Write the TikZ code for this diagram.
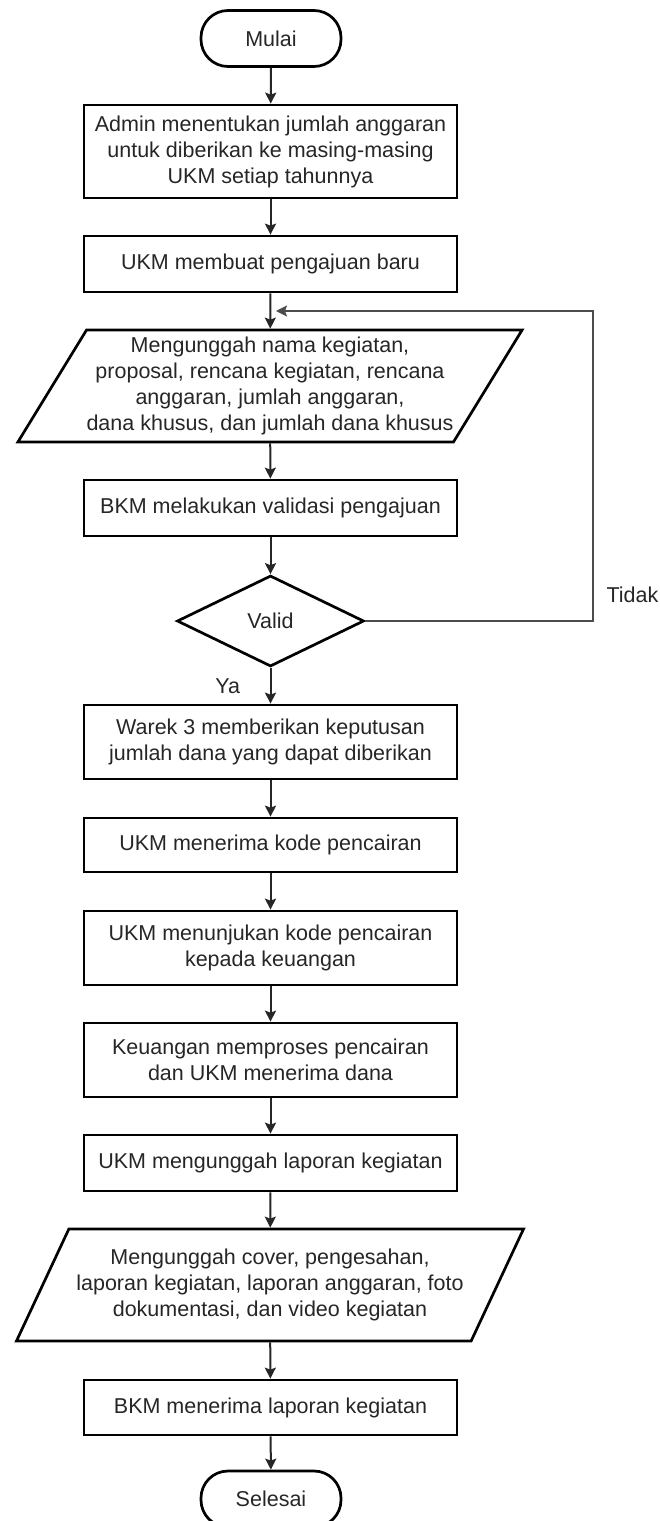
\documentclass[tikz,border=0pt]{standalone}
\usepackage{fontspec}
\setmainfont{Liberation Sans}
\usetikzlibrary{arrows.meta,shapes.geometric}

\begin{document}
\begin{tikzpicture}[x=1pt, y=1pt, every node/.style={font=\fontsize{21.5}{26}\selectfont, align=center, text=black!85},
	>={Stealth[length=11pt, width=11pt, inset=2pt]},
	terminal/.style={draw, line width=2.7pt, rounded corners=27pt, minimum width=140pt, minimum height=56pt, inner sep=0pt},
	proses/.style={draw, line width=2.7pt, rectangle, minimum width=373pt, inner sep=0pt},
	io/.style={draw, line width=2.7pt, trapezium, trapezium left angle=55, trapezium right angle=125, trapezium stretches=true, minimum width=508pt, minimum height=112pt, inner sep=0pt},
	cek/.style={draw, line width=2.7pt, diamond, minimum width=187pt, minimum height=91pt, inner sep=0pt},
	alur/.style={->, line width=2pt, black!85}]
	\useasboundingbox (0,0) rectangle (659,-1521);
	\node[terminal] (mulai) at (271,-38.5) {Mulai};
	\node[proses, minimum height=93pt] (admin) at (270.5,-151.5) {Admin menentukan jumlah anggaran\\untuk diberikan ke masing-masing\\UKM setiap tahunnya};
	\node[proses, minimum height=56pt] (baru) at (270.5,-264) {UKM membuat pengajuan baru};
	\node[io] (unggah) at (270,-386) {Mengunggah nama kegiatan,\\proposal, rencana kegiatan, rencana\\anggaran, jumlah anggaran,\hspace*{1.4em}\\dana khusus, dan jumlah dana khusus};
	\node[proses, minimum height=56pt] (validasi) at (270.5,-508) {BKM melakukan validasi pengajuan};
	\node[cek] (valid) at (270.5,-621) {Valid};
	\node[proses, minimum height=74pt] (warek) at (270.5,-742) {Warek 3 memberikan keputusan\\jumlah dana yang dapat diberikan};
	\node[proses, minimum height=54pt] (kode) at (270.5,-845) {UKM menerima kode pencairan};
	\node[proses, minimum height=74pt] (tunjuk) at (270.5,-948) {UKM menunjukan kode pencairan\\kepada keuangan};
	\node[proses, minimum height=74pt] (cair) at (270.5,-1060) {Keuangan memproses pencairan\\dan UKM menerima dana};
	\node[proses, minimum height=56pt] (laporan) at (270.5,-1163) {UKM mengunggah laporan kegiatan};
	\node[io] (berkas) at (270,-1285) {Mengunggah cover, pengesahan,\\laporan kegiatan, laporan anggaran, foto\\dokumentasi, dan video kegiatan};
	\node[proses, minimum height=55pt] (terima) at (270.5,-1407.5) {BKM menerima laporan kegiatan};
	\node[terminal] (selesai) at (271,-1499) {Selesai};
	\coordinate (kanan) at (593,-621);
	\coordinate (atas) at (593,-311);
	\coordinate (masuk) at (276,-311);
	\draw[alur] (mulai) -- (admin);
	\draw[alur] (admin) -- (baru);
	\draw[alur] (baru) -- (unggah);
	\draw[alur] (unggah) -- (validasi);
	\draw[alur] (validasi) -- (valid);
	\draw[alur] (valid) -- (warek) node[pos=0.5, left=26pt] {Ya};
	\draw[alur] (warek) -- (kode);
	\draw[alur] (kode) -- (tunjuk);
	\draw[alur] (tunjuk) -- (cair);
	\draw[alur] (cair) -- (laporan);
	\draw[alur] (laporan) -- (berkas);
	\draw[alur] (berkas) -- (terima);
	\draw[alur] (terima) -- (selesai);
	\draw[->, line width=1.3pt, black!70] (valid) -- (kanan) -- (atas) -- (masuk);
	\node[anchor=west] (tidak) at (603,-595) {Tidak};
\end{tikzpicture}
\end{document}
